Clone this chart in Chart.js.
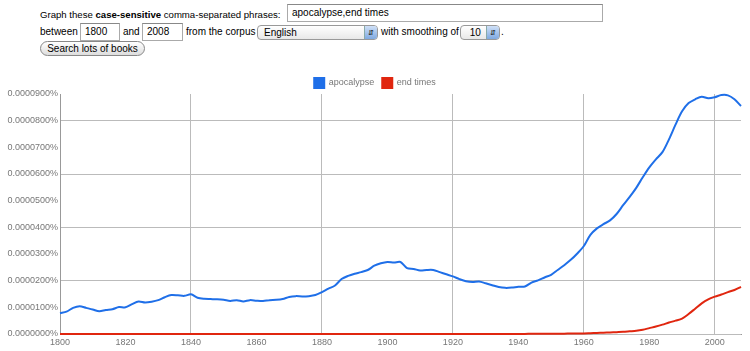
<!DOCTYPE html>
<html>
<head>
<meta charset="utf-8">
<script src="https://cdn.jsdelivr.net/npm/chart.js@4.4.0/dist/chart.umd.min.js"></script>
<style>
  body { margin:0; background:#fff; font-family: Arial, "Liberation Sans", sans-serif; font-size:10px; color:#000; }
  .t { position:absolute; white-space:nowrap; line-height:12px; }
  .box { position:absolute; border:1px solid #aaa; border-top-color:#888; background:#fff; box-sizing:border-box; padding-left:4px; line-height:16px; font-size:10px; }
  .sel { position:absolute; border:1px solid #999; border-radius:4px; box-sizing:border-box; background:linear-gradient(#fff,#e8e8e8); line-height:13px; padding-left:6px; font-size:10px; }
  .sel .arr { position:absolute; right:0; top:0; bottom:0; width:12px; border-radius:0 3px 3px 0; background:linear-gradient(#cfe0f7,#7fa9e0); border-left:1px solid #8aa; font-size:7px; text-align:center; line-height:13px; }
  .btn { position:absolute; border:1px solid #888; border-radius:8px; box-sizing:border-box; background:linear-gradient(#fff,#ddd); text-align:center; line-height:13px; font-size:10px; }
  #wrap { position:absolute; left:0; top:70px; width:750px; height:281px; }
</style>
</head>
<body>
<span class="t" style="left:40px;top:9px;font-size:9.6px">Graph these <b>case-sensitive</b> comma-separated phrases:</span>
<div class="box" style="left:287px;top:4px;width:316px;height:18px">apocalypse,end times</div>
<span class="t" style="left:40px;top:26px">between</span>
<div class="box" style="left:80px;top:23px;width:40px;height:18px">1800</div>
<span class="t" style="left:123px;top:26px">and</span>
<div class="box" style="left:142px;top:23px;width:41px;height:18px">2008</div>
<span class="t" style="left:186px;top:26px">from the corpus</span>
<div class="sel" style="left:257px;top:25px;width:121px;height:15px">English<span class="arr">&#8693;</span></div>
<span class="t" style="left:381px;top:26px">with smoothing of</span>
<div class="sel" style="left:460px;top:25px;width:40px;height:15px">&nbsp;10<span class="arr">&#8693;</span></div>
<span class="t" style="left:501px;top:26px">.</span>
<div class="btn" style="left:40px;top:41px;width:105px;height:15px">Search lots of books</div>

<div id="wrap"><canvas id="myChart"></canvas></div>

<script>
// values are in units of 0.0000001%
var years = [1800,1802,1804,1806,1808,1810,1812,1814,1816,1818,
             1820,1822,1824,1826,1828,1830,1832,1834,1836,1838,
             1840,1842,1844,1846,1848,1850,1852,1854,1856,1858,
             1860,1862,1864,1866,1868,1870,1872,1874,1876,1878,
             1880,1882,1884,1886,1888,1890,1892,1894,1896,1898,
             1900,1902,1904,1906,1908,1910,1912,1914,1916,1918,
             1920,1922,1924,1926,1928,1930,1932,1934,1936,1938,
             1940,1942,1944,1946,1948,1950,1952,1954,1956,1958,
             1960,1962,1964,1966,1968,1970,1972,1974,1976,1978,
             1980,1982,1984,1986,1988,1990,1992,1994,1996,1998,
             2000,2002,2004,2006,2008]

var apocalypse = [78,84,98,104,98,92,85,90,93,101,
                  100,112,122,118,121,127,138,146,145,143,
                  149,136,132,131,130,128,124,127,122,127,
                  125,124,127,128,131,139,142,141,142,146,
                  157,170,182,206,218,226,232,240,256,265,
                  270,268,270,247,244,238,240,240,232,224,
                  216,206,198,195,197,190,183,176,173,174,
                  177,178,193,201,212,222,240,258,278,302,
                  330,372,396,412,426,450,483,514,548,588,
                  625,655,682,730,785,835,866,880,890,884,
                  888,896,895,880,855]

var endTimes = [0,0,0,0,0,0,0,0,0,0,
                0,0,0,0,0,0,0,0,0,0,
                0,0,0,0,0,0,0,0,0,0,
                0,0,0,0,0,0,0,0,0,0,
                0,0,0,0,0,0,0,0,0,0,
                0,0,0,0,0,0,0,0,0,0,
                0,0,0,0,0,0,0,0,0,0,
                0,0,1,1,1,1,1,1,2,2,
                2,3,4,5,6,7,8,10,12,16,
                22,28,35,43,50,58,75,95,115,130,
                140,148,157,165,177]

var xTicks = [1800,1820,1840,1860,1880,1900,1920,1940,1960,1980,2000]

function pts(vals){
    var out = []
    vals.forEach(function(v,i){ out.push({x: years[i], y: v}) })
    return out
}

// fixed legend height so the plot starts where the original does,
// and legend centred on the page rather than on the padded box
var legendFix = {
    id: 'legendFix',
    beforeInit: function(chart){
        var fit = chart.legend.fit
        chart.legend.fit = function(){
            fit.bind(chart.legend)()
            this.height = 24
        }
    },
    afterLayout: function(chart){
        chart.legend.left = 9
    }
}

var ctx = document.getElementById("myChart").getContext('2d')
var chart = new Chart(ctx,{
    type: 'line',
    data: {
        datasets: [
            {
                label: "apocalypse",
                data: pts(apocalypse),
                borderColor: "#1f6fe8",
                backgroundColor: "#1f6fe8",
                borderWidth: 2,
                pointRadius: 0,
                tension: 0.3,
                clip: false
            },
            {
                label: "end times",
                data: pts(endTimes),
                borderColor: "#e0260f",
                backgroundColor: "#e0260f",
                borderWidth: 2,
                pointRadius: 0,
                tension: 0.3,
                clip: false
            }
        ]
    },
    options: {
        responsive: true,
        maintainAspectRatio: false,
        animation: false,
        layout: { padding: { top: 0, right: 9, left: 0, bottom: 0 } },
        plugins: {
            tooltip: { enabled: false },
            legend: {
                position: 'top',
                labels: {
                    boxWidth: 10, boxHeight: 10, padding: 8,
                    color: '#777',
                    font: { family: 'Arial', size: 9 }
                }
            }
        },
        scales: {
            x: {
                type: 'linear',
                min: 1800, max: 2008,
                afterBuildTicks: function(s){ s.ticks = xTicks.map(function(v){ return {value: v} }) },
                afterFit: function(s){ s.height = 17 },
                border: { color: '#999', z: -1 },
                grid: {
                    drawTicks: false,
                    color: function(c){ return (c.tick && c.tick.value % 40 === 0) ? '#bbb' : 'rgba(0,0,0,0)' }
                },
                ticks: {
                    padding: 3, maxRotation: 0, autoSkip: false,
                    color: '#777', font: { family: 'Arial', size: 9 },
                    callback: function(v){ return String(v) }
                }
            },
            y: {
                min: 0, max: 900,
                afterFit: function(s){ s.width = 60 },
                border: { color: '#999' },
                grid: {
                    drawTicks: false,
                    color: function(c){ return (c.tick && c.tick.value % 200 === 0) ? '#bbb' : 'rgba(0,0,0,0)' }
                },
                ticks: {
                    stepSize: 100, padding: 2,
                    color: '#777', font: { family: 'Arial', size: 9 },
                    callback: function(v){ return (v / 1e7).toFixed(7) + '%' }
                }
            }
        }
    },
    plugins: [legendFix]
})
</script>
</body>
</html>
